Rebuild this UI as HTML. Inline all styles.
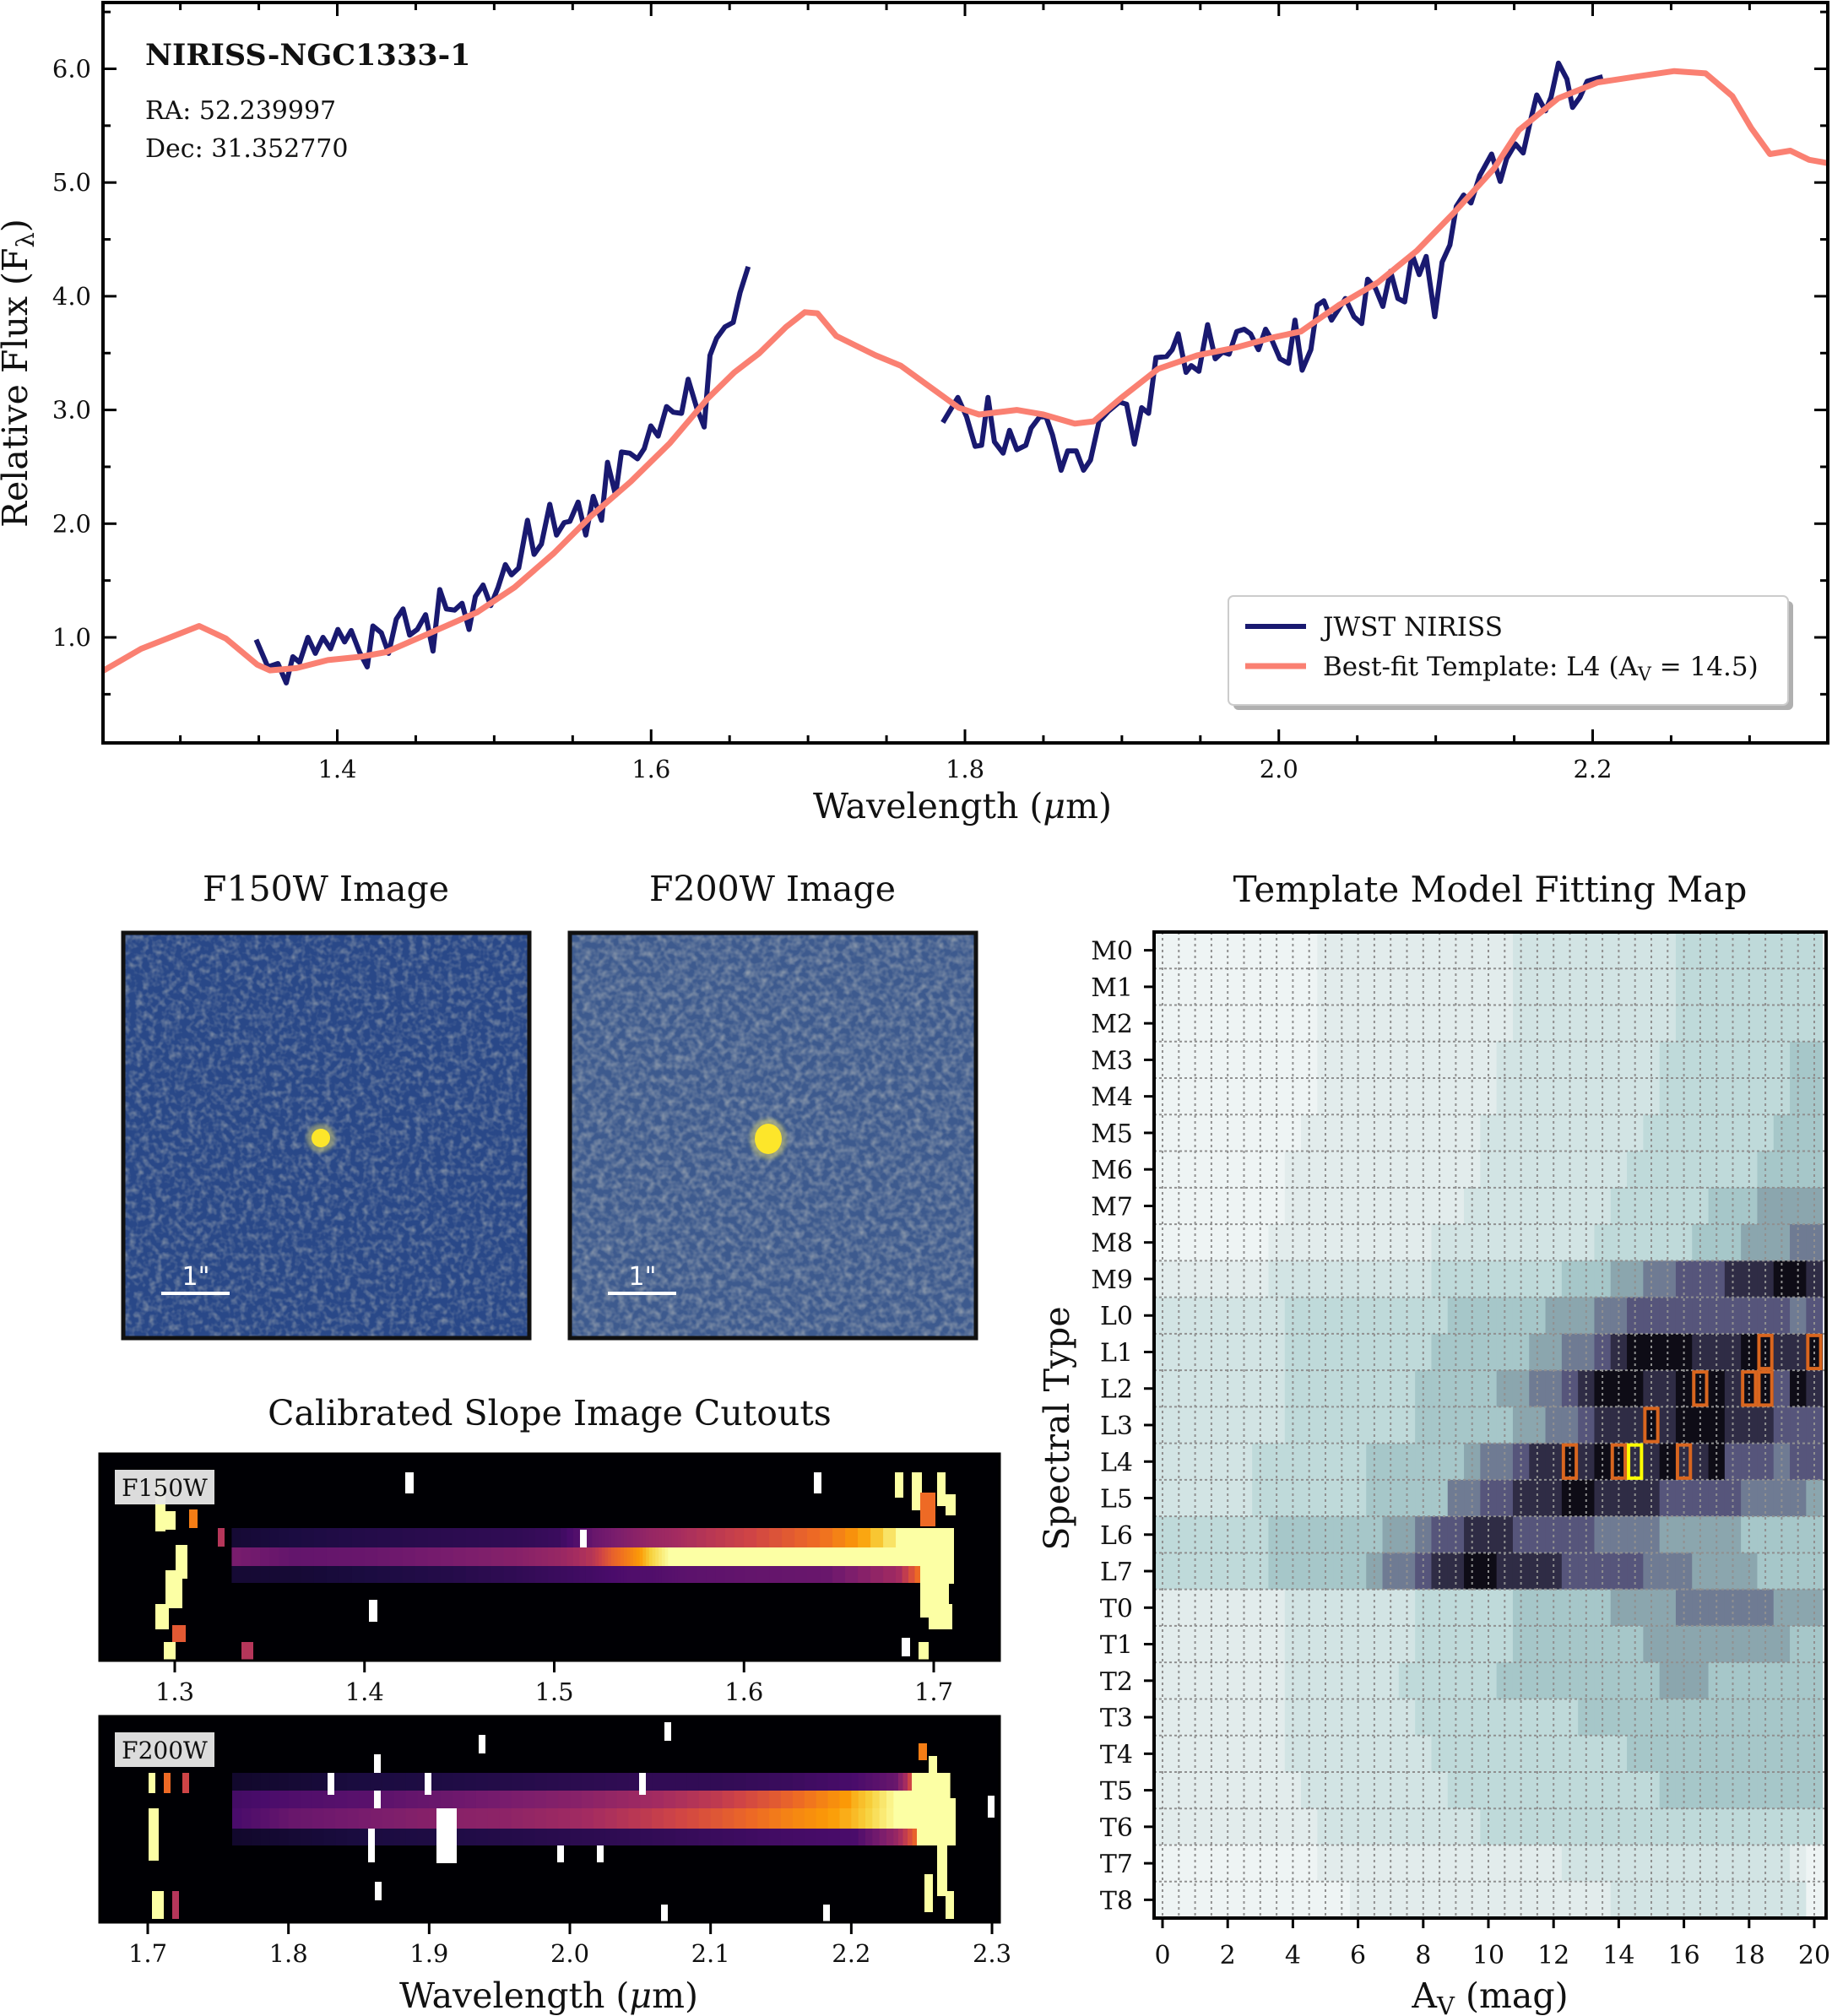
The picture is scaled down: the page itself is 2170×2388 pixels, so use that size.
<!DOCTYPE html>
<html><head><meta charset="utf-8">
<style>
html,body{margin:0;padding:0;background:#fff;}
svg{display:block;}
text{font-family:"DejaVu Serif","Liberation Serif",serif;fill:#111;}
</style></head>
<body>
<svg id="fig" width="2170" height="2388" viewBox="0 0 2170 2388" xmlns="http://www.w3.org/2000/svg">
<defs>
<filter id="noiseA" x="0" y="0" width="100%" height="100%">
<feTurbulence type="fractalNoise" baseFrequency="0.13" numOctaves="2" seed="3"/>
<feColorMatrix type="matrix" values="0 0 0 0 0.70  0 0 0 0 0.68  0 0 0 0 0.55  0.9 0 0 0 -0.38"/>
</filter>
<filter id="noiseB" x="0" y="0" width="100%" height="100%">
<feTurbulence type="fractalNoise" baseFrequency="0.12" numOctaves="2" seed="7"/>
<feColorMatrix type="matrix" values="0 0 0 0 0.70  0 0 0 0 0.68  0 0 0 0 0.58  0.9 0 0 0 -0.33"/>
</filter>
<filter id="blur1"><feGaussianBlur stdDeviation="2"/></filter>
</defs>
<g id="top"></g>
<g id="imgs"></g>
<g id="cuts"></g>
<g id="heat"></g>
</svg>
<script>
// ===== Spectrum data =====
const templateWave = [1.250,1.275,1.312,1.329,1.349,1.357,1.374,1.394,1.415,1.431,1.456,1.489,1.513,1.538,1.562,1.587,1.612,1.636,1.653,1.669,1.686,1.698,1.706,1.718,1.743,1.759,1.776,1.796,1.809,1.833,1.850,1.870,1.882,1.899,1.923,1.948,1.973,1.997,2.014,2.038,2.063,2.088,2.112,2.137,2.153,2.178,2.203,2.227,2.252,2.272,2.289,2.301,2.313,2.326,2.338,2.350];
const templateFlux = [0.70,0.90,1.10,0.99,0.76,0.71,0.73,0.80,0.83,0.87,1.02,1.22,1.44,1.74,2.07,2.37,2.71,3.10,3.33,3.50,3.73,3.86,3.85,3.65,3.48,3.39,3.22,3.02,2.96,3.00,2.96,2.88,2.90,3.10,3.36,3.48,3.55,3.64,3.69,3.92,4.12,4.40,4.74,5.12,5.46,5.74,5.88,5.93,5.98,5.96,5.76,5.48,5.25,5.28,5.20,5.17];
const jwstWave1 = [1.3483,1.3558,1.3622,1.3675,1.3717,1.3760,1.3813,1.3860,1.3909,1.3957,1.4004,1.4047,1.4089,1.4142,1.4191,1.4227,1.4281,1.4327,1.4376,1.4419,1.4461,1.4510,1.4563,1.4610,1.4653,1.4695,1.4748,1.4795,1.4840,1.4880,1.4929,1.4978,1.5025,1.5071,1.5110,1.5156,1.5212,1.5254,1.5301,1.5354,1.5397,1.5446,1.5482,1.5535,1.5584,1.5631,1.5684,1.5722,1.5773,1.5811,1.5864,1.5913,1.5956,1.5998,1.6045,1.6098,1.6141,1.6194,1.6236,1.6290,1.6338,1.6375,1.6417,1.6470,1.6523,1.6566,1.6619];
const jwstFlux1 = [0.98,0.74,0.77,0.60,0.83,0.78,1.00,0.86,1.00,0.90,1.07,0.96,1.06,0.87,0.74,1.10,1.04,0.86,1.16,1.25,1.02,1.07,1.20,0.88,1.42,1.25,1.24,1.30,1.07,1.36,1.46,1.28,1.44,1.64,1.55,1.61,2.03,1.73,1.82,2.17,1.90,2.01,2.02,2.19,1.90,2.24,2.03,2.54,2.25,2.63,2.62,2.57,2.66,2.86,2.77,3.03,2.98,2.97,3.27,3.02,2.85,3.48,3.63,3.73,3.77,4.03,4.26];
const jwstWave2 = [1.7859,1.7955,1.8010,1.8065,1.8106,1.8147,1.8188,1.8243,1.8284,1.8331,1.8388,1.8421,1.8476,1.8517,1.8558,1.8613,1.8655,1.8709,1.8756,1.8800,1.8855,1.8915,1.8984,1.9030,1.9080,1.9126,1.9170,1.9217,1.9285,1.9321,1.9359,1.9409,1.9442,1.9491,1.9546,1.9595,1.9642,1.9683,1.9732,1.9779,1.9820,1.9870,1.9916,1.9957,2.0007,2.0062,2.0103,2.0149,2.0204,2.0245,2.0287,2.0336,2.0424,2.0479,2.0528,2.0566,2.0616,2.0663,2.0712,2.0759,2.0802,2.0849,2.0895,2.0939,2.0994,2.1041,2.1090,2.1131,2.1178,2.1225,2.1280,2.1356,2.1411,2.1452,2.1507,2.1557,2.1598,2.1644,2.1699,2.1735,2.1782,2.1836,2.1872,2.1919,2.1965,2.2064];
const jwstFlux2 = [2.89,3.11,2.94,2.68,2.69,3.11,2.72,2.62,2.82,2.65,2.69,2.84,2.94,2.94,2.78,2.47,2.64,2.64,2.47,2.56,2.90,2.99,3.07,3.05,2.70,3.02,2.97,3.46,3.47,3.53,3.67,3.33,3.39,3.34,3.75,3.45,3.51,3.49,3.69,3.71,3.67,3.53,3.71,3.61,3.45,3.41,3.79,3.35,3.53,3.92,3.96,3.79,3.98,3.82,3.76,4.15,4.07,3.91,4.22,3.98,3.95,4.37,4.19,4.35,3.82,4.30,4.45,4.79,4.89,4.82,5.06,5.25,5.01,5.21,5.34,5.26,5.51,5.77,5.63,5.75,6.05,5.91,5.66,5.75,5.89,5.93];
const xTickVals = [1.4,1.6,1.8,2.0,2.2];
const xTickLabels = ["1.4","1.6","1.8","2.0","2.2"];
const yTickVals = [1,2,3,4,5,6];
const yTickLabels = ["1.0","2.0","3.0","4.0","5.0","6.0"];

// ===== Fitting map data =====
const spectralTypes = ["M0","M1","M2","M3","M4","M5","M6","M7","M8","M9","L0","L1","L2","L3","L4","L5","L6","L7","T0","T1","T2","T3","T4","T5","T6","T7","T8"];
const avTickVals = [0,2,4,6,8,10,12,14,16,18,20];
const fitRows = [
"0000000000"+"111111111111"+"2222222222"+"333333333",
"0000000000"+"111111111111"+"2222222222"+"333333333",
"0000000000"+"111111111111"+"2222222222"+"333333333",
"0000000000"+"11111111111"+"2222222222"+"33333333"+"44",
"0000000000"+"11111111111"+"2222222222"+"33333333"+"44",
"000000000"+"11111111111"+"2222222222"+"33333333"+"444",
"00000000"+"111111111111"+"222222222"+"33333333"+"4444",
"00000000"+"11111111111"+"222222222"+"333333"+"444"+"5555",
"0000000"+"1111111111"+"2222222222"+"333333"+"444"+"555"+"66",
"1111111"+"2222222222"+"33333333"+"444"+"5566777888998",
"22222222"+"3333333333"+"444444"+"55566777777777767",
"22222222"+"333333333"+"44444"+"4556678999988899889",
"22222222"+"33333333"+"4444"+"455667899988999899798",
"22222222"+"33333333"+"444444"+"5566788898999888777",
"222222"+"3333333"+"444444"+"5667889899889889777677",
"222222"+"3333333"+"44444"+"66778889988887777766665",
"3333333"+"4444444"+"556778887777766665555544444",
"3333333"+"444444"+"5667889988887777766655554444",
"11111111"+"22222222"+"333333"+"444444"+"5555666666555",
"11111111"+"22222222"+"333333"+"44444444"+"55555555544",
"11111111"+"2222222"+"333333"+"4444444444"+"5554444444",
"11111111"+"22222222"+"3333333333"+"444444444444444",
"11111111"+"222222222"+"333333333333"+"444444444444",
"111111111"+"222222222"+"3333333333333"+"4444444444",
"1111111111"+"2222222222"+"333333333333333333333",
"0000000000"+"111111111111111"+"22222222222222"+"10",
"000000000000"+"1111111111111111"+"222222222222"+"0"
];
const bestFitType = ["L4"];
const bestFitAv = [14.5];
const goodFitTypes = ["L4","L4","L4","L3","L2","L2","L2","L1","L1"];
const goodFitAvs = [12.5,14.0,16.0,15.0,16.5,18.0,18.5,18.5,20.0];

// ===== Cutout trace data (intensity 0-1) =====
const f150Wave = [1.33,1.36,1.40,1.44,1.48,1.50,1.52,1.53,1.54,1.55,1.56,1.57,1.60,1.64,1.68,1.70];
const f150Upper = [0.12,0.15,0.18,0.20,0.22,0.25,0.40,0.45,0.50,0.55,0.58,0.62,0.70,0.82,1.00,1.00];
const f150Center = [0.45,0.38,0.40,0.45,0.50,0.55,0.65,0.78,0.86,0.95,1.00,1.00,1.00,1.00,1.00,1.00];
const f150Lower = [0.12,0.12,0.15,0.18,0.22,0.25,0.28,0.30,0.32,0.32,0.34,0.36,0.38,0.40,0.60,1.00];
const f200Wave = [1.76,1.80,1.85,1.90,1.95,2.00,2.05,2.10,2.15,2.20,2.23,2.25,2.27];
const f200Row1 = [0.10,0.12,0.15,0.16,0.18,0.20,0.22,0.22,0.25,0.30,0.40,1.00,1.00];
const f200Row2 = [0.28,0.32,0.35,0.40,0.45,0.50,0.58,0.66,0.78,0.92,1.00,1.00,1.00];
const f200Row3 = [0.30,0.40,0.45,0.50,0.52,0.58,0.66,0.75,0.85,0.93,1.00,1.00,1.00];
const f200Row4 = [0.10,0.12,0.15,0.16,0.18,0.20,0.22,0.25,0.28,0.30,0.55,0.90,0.10];

const NS = "http://www.w3.org/2000/svg";
function mk(tag, attrs, parent, txt){
  const e = document.createElementNS(NS, tag);
  for (const k in attrs) e.setAttribute(k, attrs[k]);
  if (txt !== undefined) e.textContent = txt;
  parent.appendChild(e);
  return e;
}

// ================= TOP SPECTRUM =================
(function(){
  const g = document.getElementById('top');
  const L=122,R=2165,T=3,B=880;
  const X = w => 399.5 + (w-1.4)*1858.75;
  const Y = f => 81.5 + (6-f)*134.7;
  for (let k=0;k<=22;k++){
    const w = 1.25 + k*0.05;
    const x = X(w); if (x<L+2||x>R-2) continue;
    const major = Math.abs((w*10)%2) < 0.01 || Math.abs((w*10)%2-2)<0.01;
    const len = major?16:9;
    const t1 = mk('line',{x1:x,y1:B,x2:x,y2:B-len,stroke:'#000','stroke-width':3},g);
    
    
    const t2 = mk('line',{x1:x,y1:T,x2:x,y2:T+len,stroke:'#000','stroke-width':3},g);
    
    
  }
  for (let k=0;k<=13;k++){
    const f = 0.5*k;
    const y = Y(f); if (y<T+2||y>B-2) continue;
    const major = (k%2===0);
    const len = major?16:9;
    const a = mk('line',{x1:L,y1:y,x2:L+len,y2:y,stroke:'#000','stroke-width':3},g);
    
    
    const b = mk('line',{x1:R,y1:y,x2:R-len,y2:y,stroke:'#000','stroke-width':3},g);
    
    
  }
  xTickVals.forEach((v,i)=>{
    const t = mk('text',{x:X(v),y:921,'font-size':29,'text-anchor':'middle'},g,xTickLabels[i]);
    
    
  });
  yTickVals.forEach((v,i)=>{
    const t = mk('text',{x:108,y:Y(v)+10,'font-size':29,'text-anchor':'end'},g,yTickLabels[i]);
    
    
  });
  const clipId='clipTop';
  const cp = mk('clipPath',{id:clipId},g); mk('rect',{x:L,y:T,width:R-L,height:B-T},cp);
  const line=(ws,fs)=>ws.map((w,i)=>(i?'L':'M')+X(w).toFixed(1)+' '+Y(fs[i]).toFixed(1)).join(' ');
  const p1 = mk('path',{d:line(jwstWave1,jwstFlux1),fill:'none',stroke:'#191970','stroke-width':6,'stroke-linejoin':'round','clip-path':'url(#'+clipId+')'},g);
  
  
  const p2 = mk('path',{d:line(jwstWave2,jwstFlux2),fill:'none',stroke:'#191970','stroke-width':6,'stroke-linejoin':'round','clip-path':'url(#'+clipId+')'},g);
  
  
  const p3 = mk('path',{d:line(templateWave,templateFlux),fill:'none',stroke:'#fa8072','stroke-width':7,'stroke-linejoin':'round','clip-path':'url(#'+clipId+')'},g);
  
  
  const fr = mk('rect',{x:L,y:T,width:R-L,height:B-T,fill:'none',stroke:'#000','stroke-width':4},g);
  
  
  const t1=mk('text',{x:172,y:77,'font-size':35,'font-weight':'bold'},g,'NIRISS-NGC1333-1');
  
  
  const t2=mk('text',{x:172,y:141,'font-size':30},g,'RA: 52.239997');
  
  
  const t3=mk('text',{x:172,y:186,'font-size':30},g,'Dec: 31.352770');
  
  
  const yl=mk('text',{x:0,y:0,'font-size':41,'text-anchor':'middle',transform:'translate(32,442) rotate(-90)'},g);
  
  
  yl.innerHTML='Relative Flux (F<tspan font-size="29" dy="8">λ</tspan><tspan dy="-8">)</tspan>';
  const xl=mk('text',{x:1140,y:969,'font-size':41,'text-anchor':'middle'},g);
  
  
  xl.innerHTML='Wavelength (<tspan font-style="italic">μ</tspan>m)';
  const lg = mk('g',{},g);
  
  
  mk('rect',{x:1461,y:712,width:663,height:129,rx:6,fill:'#b0b0b0'},lg);
  mk('rect',{x:1455,y:706,width:663,height:129,rx:6,fill:'#fff',stroke:'#cccccc','stroke-width':2},lg);
  const e1=mk('line',{x1:1475,y1:742,x2:1547,y2:742,stroke:'#191970','stroke-width':6},lg);
  
  
  mk('text',{x:1567,y:753,'font-size':31},lg,'JWST NIRISS');
  const e2=mk('line',{x1:1475,y1:789,x2:1547,y2:789,stroke:'#fa8072','stroke-width':7},lg);
  
  
  const lt=mk('text',{x:1567,y:800,'font-size':31},lg);
  lt.innerHTML='Best-fit Template: L4 (A<tspan font-size="22" dy="6">V</tspan><tspan dy="-6"> = 14.5)</tspan>';
})();

// ================= IMAGE PANELS =================
(function(){
  const g=document.getElementById('imgs');
  const panels=[
    {x:146,title:'F150W Image',base:'#294888',flt:'noiseA',cx:380,cy:1348,rx:11,ry:11,name:'f150w'},
    {x:675,title:'F200W Image',base:'#3d5a8e',flt:'noiseB',cx:910,cy:1349,rx:16,ry:18,name:'f200w'}
  ];
  panels.forEach(p=>{
    const pg=mk('g',{},g);
    
    
    const tt=mk('text',{x:p.x+240,y:1067,'font-size':41,'text-anchor':'middle'},pg,p.title);
    
    
    mk('rect',{x:p.x,y:1105,width:481,height:480,fill:p.base},pg);
    mk('rect',{x:p.x,y:1105,width:481,height:480,filter:'url(#'+p.flt+')'},pg);
    mk('ellipse',{cx:p.cx,cy:p.cy,rx:p.rx+6,ry:p.ry+6,fill:'#d8d070',opacity:0.5,filter:'url(#blur1)'},pg);
    const s=mk('ellipse',{cx:p.cx,cy:p.cy,rx:p.rx,ry:p.ry,fill:'#fde62a'},pg);
    
    
    mk('rect',{x:p.x,y:1105,width:481,height:480,fill:'none',stroke:'#111','stroke-width':5},pg);
    const sb=mk('line',{x1:p.x+45,y1:1532,x2:p.x+126,y2:1532,stroke:'#fff','stroke-width':4},pg);
    
    
    const sl=mk('text',{x:p.x+86,y:1522,'font-size':30,'text-anchor':'middle',style:'fill:#fff;font-family:"DejaVu Sans",sans-serif'},pg,'1"');
    
    
  });
})();

// ================= CUTOUTS =================
function inferno(v){
  const st=[[0,[0,0,4]],[0.15,[27,12,65]],[0.3,[74,12,107]],[0.45,[120,28,109]],[0.6,[165,44,96]],[0.7,[207,68,70]],[0.8,[237,105,37]],[0.9,[251,155,6]],[0.95,[247,209,61]],[1.0,[252,255,164]]];
  v=Math.max(0,Math.min(1,v));
  for(let i=1;i<st.length;i++){ if(v<=st[i][0]){const a=st[i-1],b=st[i];const t=(v-a[0])/(b[0]-a[0]);
    const c=a[1].map((q,j)=>Math.round(q+(b[1][j]-q)*t));return 'rgb('+c.join(',')+')';}}
  return 'rgb(252,255,164)';
}
(function(){
  const g=document.getElementById('cuts');
  const tt=mk('text',{x:651,y:1688,'font-size':41,'text-anchor':'middle'},g,'Calibrated Slope Image Cutouts');
  
  
  function panel(cfg){
    const pg=mk('g',{},g);
    
    
    mk('rect',{x:118,y:cfg.top,width:1066,height:cfg.h,fill:'#000004'},pg);
    const X=w=>cfg.x0+(w-cfg.w0)*cfg.k;
    cfg.rows.forEach(r=>{
      const ws=cfg.wave, vs=r.vals;
      for(let i=0;i<ws.length-1;i++){
        const n=6;
        for(let j=0;j<n;j++){
          const w=ws[i]+(ws[i+1]-ws[i])*j/n, w2=ws[i]+(ws[i+1]-ws[i])*(j+1)/n;
          const v=vs[i]+(vs[i+1]-vs[i])*j/n;
          const c=mk('rect',{x:X(w),y:r.y,width:X(w2)-X(w)+0.6,height:r.h,fill:inferno(v)},pg);
          
          
        }
      }
    });
    cfg.blocks.forEach(b=>mk('rect',{x:b[0],y:b[1],width:b[2],height:b[3],fill:b[4]},pg));
    mk('rect',{x:118,y:cfg.top,width:1066,height:cfg.h,fill:'none',stroke:'#000','stroke-width':3},pg);
    const lb=mk('g',{},pg);
    
    
    mk('rect',{x:136,y:cfg.top+19,width:118,height:41,fill:'#e8e8e8',opacity:0.95},lb);
    mk('text',{x:195,y:cfg.top+50,'font-size':28,'text-anchor':'middle'},lb,cfg.label);
    cfg.ticks.forEach((v,i)=>{
      const x=X(v);
      const tk=mk('line',{x1:x,y1:cfg.top+cfg.h,x2:x,y2:cfg.top+cfg.h+14,stroke:'#000','stroke-width':3},pg);
      
      
      const tl=mk('text',{x:x,y:cfg.top+cfg.h+47,'font-size':29,'text-anchor':'middle'},pg,cfg.tickLabels[i]);
      
      
    });
  }
  const Y1='#fcffa4';
  panel({name:'f150w',label:'F150W',top:1722,h:245,x0:207,w0:1.3,k:2247.5,wave:f150Wave,
    rows:[{y:1810,h:23,vals:f150Upper},{y:1833,h:22,vals:f150Center},{y:1855,h:20,vals:f150Lower}],
    blocks:[[184,1754,12,60,Y1],[190,1790,18,22,Y1],[208,1830,14,40,Y1],[196,1860,20,45,Y1],[184,1900,16,30,Y1],[204,1925,16,20,'#e35933'],[194,1945,14,22,Y1],[224,1788,10,22,'#f57d15'],[258,1810,8,22,'#b5365a'],[286,1945,14,22,'#b5365a'],
      [1060,1744,10,30,Y1],[1080,1744,12,45,Y1],[1090,1768,18,40,'#ee6a25'],[1110,1744,10,40,Y1],[1090,1810,40,66,Y1],[1090,1876,34,40,Y1],[1120,1770,12,25,Y1],[1100,1900,28,30,Y1],[1068,1940,10,22,'#ffffff'],[1088,1945,12,22,Y1],
      [480,1744,10,25,'#ffffff'],[437,1895,10,26,'#ffffff'],[964,1744,9,25,'#ffffff'],[687,1812,8,21,'#ffffff']],
    ticks:[1.3,1.4,1.5,1.6,1.7],tickLabels:['1.3','1.4','1.5','1.6','1.7']});
  panel({name:'f200w',label:'F200W',top:2033,h:244,x0:175,w0:1.7,k:1666.7,wave:f200Wave,
    rows:[{y:2100,h:21,vals:f200Row1},{y:2121,h:21,vals:f200Row2},{y:2142,h:24,vals:f200Row3},{y:2166,h:20,vals:f200Row4}],
    blocks:[[176,2100,8,24,Y1],[194,2100,8,24,'#ee6a25'],[216,2100,8,24,'#cf4446'],[176,2142,12,62,Y1],[180,2240,14,33,Y1],[204,2240,8,33,'#b5365a'],
      [1080,2100,40,30,Y1],[1086,2130,46,56,Y1],[1100,2080,10,30,Y1],[1110,2186,12,60,Y1],[1095,2220,10,45,Y1],[1120,2240,10,33,Y1],[1170,2127,8,26,'#ffffff'],[1088,2065,10,20,'#f57d15'],
      [517,2142,24,65,'#ffffff'],[388,2100,8,26,'#ffffff'],[503,2100,8,26,'#ffffff'],[757,2100,8,26,'#ffffff'],[443,2078,8,22,'#ffffff'],[567,2055,8,22,'#ffffff'],[787,2040,8,22,'#ffffff'],[436,2166,8,40,'#ffffff'],[660,2186,8,20,'#ffffff'],[707,2186,8,20,'#ffffff'],[783,2256,8,20,'#ffffff'],[975,2256,8,20,'#ffffff'],[444,2229,8,22,'#ffffff'],[443,2121,8,21,'#ffffff']],
    ticks:[1.7,1.8,1.9,2.0,2.1,2.2,2.3],tickLabels:['1.7','1.8','1.9','2.0','2.1','2.2','2.3']});
  const xl=mk('text',{x:650,y:2378,'font-size':41,'text-anchor':'middle'},g);
  
  
  xl.innerHTML='Wavelength (<tspan font-style="italic">μ</tspan>m)';
})();

// ================= HEATMAP =================
(function(){
  const g=document.getElementById('heat');
  const colors=['#eef4f4','#e2ecec','#d2e4e4','#bfdada','#a6c7c9','#8ba6ae','#6f7b93','#56557b','#2f2c45','#0e0c16'];
  const L=1367,T=1104,B=2272,R=2163;
  const nR=spectralTypes.length;
  const rh=(B-T)/nR;
  const XA=a=>1377+a*38.6;
  const cw=0.5*38.6;
  const YR=i=>T+i*rh;
  fitRows.forEach((row,i)=>{
    const vals=row.split('').map(Number);
    for(let j=0;j<41;j++){
      const v=vals[Math.min(j,vals.length-1)];
      const av=j*0.5;
      const c=mk('rect',{x:XA(av)-cw/2,y:YR(i),width:cw+0.6,height:rh+0.6,fill:colors[v]},g);
      
      
    }
  });
  for(let j=0;j<=41;j++){
    const x=XA(j*0.5);
    if(x>R) break;
    mk('line',{x1:x,y1:T,x2:x,y2:B,stroke:'#909090','stroke-width':2,'stroke-dasharray':'3,4'},g);
  }
  for(let i=1;i<nR;i++){
    mk('line',{x1:L,y1:YR(i),x2:R,y2:YR(i),stroke:'#909090','stroke-width':2,'stroke-dasharray':'3,3'},g);
  }
  goodFitTypes.forEach((t,k)=>{
    const i=spectralTypes.indexOf(t);
    const b=mk('rect',{x:XA(goodFitAvs[k])-cw/2+2,y:YR(i)+2,width:cw-4,height:rh-4,fill:'none',stroke:'#d9661f','stroke-width':4},g);
    
    
  });
  const bi=spectralTypes.indexOf(bestFitType[0]);
  const bb=mk('rect',{x:XA(bestFitAv[0])-cw/2+2,y:YR(bi)+2,width:cw-4,height:rh-4,fill:'none',stroke:'#ffff00','stroke-width':4},g);
  
  
  const fr=mk('rect',{x:L,y:T,width:R-L,height:B-T,fill:'none',stroke:'#000','stroke-width':4},g);
  
  
  spectralTypes.forEach((t,i)=>{
    const y=YR(i)+rh/2;
    mk('line',{x1:L-12,y1:y,x2:L,y2:y,stroke:'#000','stroke-width':3},g);
    const tl=mk('text',{x:1342,y:y+11,'font-size':30,'text-anchor':'end'},g,t);
    
    
  });
  avTickVals.forEach(v=>{
    const x=XA(v);
    mk('line',{x1:x,y1:B,x2:x,y2:B+12,stroke:'#000','stroke-width':3},g);
    const tl=mk('text',{x:x,y:2326,'font-size':30,'text-anchor':'middle'},g,String(v));
    
    
  });
  const ti=mk('text',{x:1765,y:1068,'font-size':42,'text-anchor':'middle'},g,'Template Model Fitting Map');
  
  
  const yl=mk('text',{x:0,y:0,'font-size':41,'text-anchor':'middle',transform:'translate(1266,1692) rotate(-90)'},g,'Spectral Type');
  
  
  const xl=mk('text',{x:1765,y:2378,'font-size':41,'text-anchor':'middle'},g);
  
  
  xl.innerHTML='A<tspan font-size="29" dy="8">V</tspan><tspan dy="-8"> (mag)</tspan>';
})();
</script>
</body></html>
